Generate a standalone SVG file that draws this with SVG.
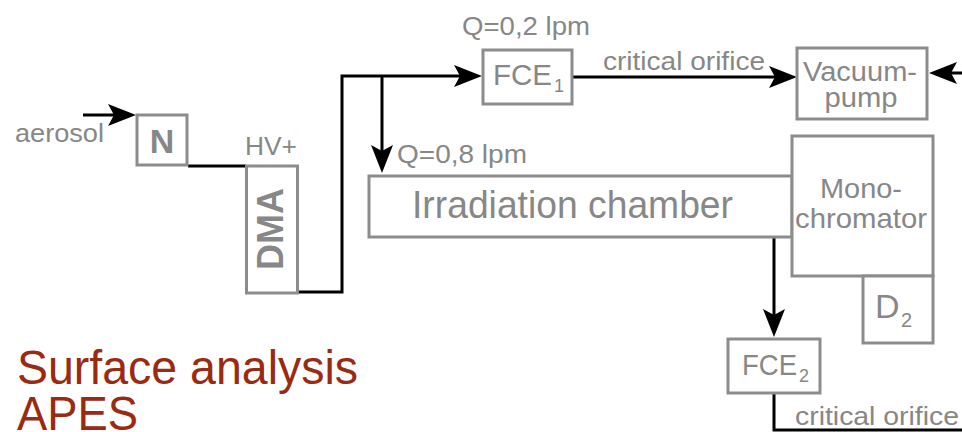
<svg xmlns="http://www.w3.org/2000/svg" width="962" height="432" viewBox="0 0 962 432">
<style>
.box{fill:#fff;stroke:#8c8c8c;stroke-width:3}
.t{font-family:"Liberation Sans",Arial,sans-serif;fill:#878787}
.b{font-weight:bold}
.ln{fill:none;stroke:#000;stroke-width:3}
.title{font-family:"Liberation Sans",Arial,sans-serif;fill:#9a2a12;font-size:48px}
</style>
<defs>
<marker id="ah" markerUnits="userSpaceOnUse" viewBox="0 0 28 22" refX="23" refY="11" markerWidth="28" markerHeight="22" orient="auto">
<path d="M0,0 L28,11 L0,22 L6,11 Z" fill="#000"/>
</marker>
</defs>
<rect width="962" height="432" fill="#fff"/>
<g id="connectors">
<path class="ln" d="M83,115 H131" marker-end="url(#ah)"/>
<path class="ln" d="M188,166 H246"/>
<path class="ln" d="M298,292 H342 V76 H477" marker-end="url(#ah)"/>
<path class="ln" d="M382,76 V168" marker-end="url(#ah)"/>
<path class="ln" d="M572,77 H792" marker-end="url(#ah)"/>
<path class="ln" d="M962,73 H934" marker-end="url(#ah)"/>
<path class="ln" d="M774,237 V332" marker-end="url(#ah)"/>
<path class="ln" d="M774,393 V430 H962"/>
</g>
<g id="aerosol"><text class="t" x="15" y="142" font-size="26" textLength="89" lengthAdjust="spacingAndGlyphs">aerosol</text></g>
<g id="N">
<rect class="box" x="137" y="115" width="50" height="50"/>
<text class="t b" x="162" y="153" font-size="34" text-anchor="middle">N</text>
</g>
<g id="DMA">
<rect class="box" x="246.5" y="166" width="51" height="127"/>
<text class="t" x="245" y="155" font-size="25" textLength="52" lengthAdjust="spacingAndGlyphs">HV+</text>
<text class="t b" transform="translate(283,229) rotate(-90)" font-size="36" text-anchor="middle" textLength="82" lengthAdjust="spacingAndGlyphs">DMA</text>
</g>
<g id="FCE1">
<rect class="box" x="483" y="50" width="89" height="54"/>
<text class="t" x="462" y="35" font-size="26" textLength="128" lengthAdjust="spacingAndGlyphs">Q=0,2 lpm</text>
<text class="t" x="493" y="85" font-size="30" textLength="59" lengthAdjust="spacingAndGlyphs">FCE</text>
<text class="t" x="554" y="92" font-size="18">1</text>
</g>
<g id="orifice1"><text class="t" x="603" y="70" font-size="26" textLength="162" lengthAdjust="spacingAndGlyphs">critical orifice</text></g>
<g id="vacuum">
<rect class="box" x="797" y="48" width="130" height="71"/>
<text class="t" x="860" y="81" font-size="27" text-anchor="middle" textLength="114" lengthAdjust="spacingAndGlyphs">Vacuum-</text>
<text class="t" x="861" y="107" font-size="27" text-anchor="middle" textLength="73" lengthAdjust="spacingAndGlyphs">pump</text>
</g>
<g id="chamber">
<rect class="box" x="369" y="176" width="423" height="61"/>
<text class="t" x="397" y="163" font-size="26" textLength="130" lengthAdjust="spacingAndGlyphs">Q=0,8 lpm</text>
<text class="t" x="412" y="218" font-size="39" textLength="321" lengthAdjust="spacingAndGlyphs">Irradiation chamber</text>
</g>
<g id="mono">
<rect class="box" x="792" y="136" width="141" height="140"/>
<text class="t" x="861" y="198" font-size="28" text-anchor="middle" textLength="82" lengthAdjust="spacingAndGlyphs">Mono-</text>
<text class="t" x="861" y="228" font-size="28" text-anchor="middle" textLength="132" lengthAdjust="spacingAndGlyphs">chromator</text>
</g>
<g id="D2">
<rect class="box" x="863" y="276" width="70" height="67"/>
<text class="t" x="875" y="318" font-size="34">D</text>
<text class="t" x="901" y="327" font-size="20">2</text>
</g>
<g id="FCE2">
<rect class="box" x="728" y="339" width="92" height="54"/>
<text class="t" x="742" y="375" font-size="30" textLength="55" lengthAdjust="spacingAndGlyphs">FCE</text>
<text class="t" x="799" y="382" font-size="18">2</text>
</g>
<g id="orifice2"><text class="t" x="795" y="425" font-size="26" textLength="164" lengthAdjust="spacingAndGlyphs">critical orifice</text></g>
<g id="title">
<text class="title" x="17" y="384" textLength="341" lengthAdjust="spacingAndGlyphs">Surface analysis</text>
<text class="title" x="17" y="430" textLength="121" lengthAdjust="spacingAndGlyphs">APES</text>
</g>
</svg>
